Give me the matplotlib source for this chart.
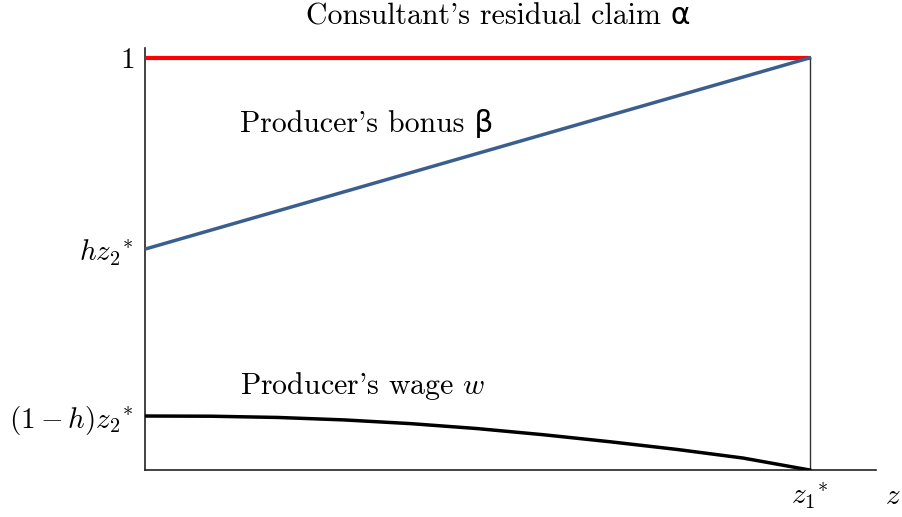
import numpy as np
import matplotlib
matplotlib.use('Agg')
import matplotlib.pyplot as plt

plt.rcParams['mathtext.fontset'] = 'cm'
plt.rcParams['font.family'] = ['cmr10', 'DejaVu Sans']
plt.rcParams['axes.unicode_minus'] = False

# Values (z scaled so that z1* = 1)
z1_star = 1.0
hz2 = 0.536          # h z2*
one_minus_h_z2 = 0.131   # (1-h) z2*

alpha_x = [0.0, z1_star]
alpha_y = [1.0, 1.0]

beta_x = [0.0, z1_star]
beta_y = [hz2, 1.0]

wage_x = [0.0, 0.1, 0.2, 0.3, 0.4, 0.5, 0.6, 0.7, 0.8, 0.9, 1.0]
wage_y = [0.131, 0.1305, 0.1275, 0.1215, 0.1125, 0.1005, 0.0855, 0.0685,
          0.050, 0.029, 0.0]

ytick_vals = [one_minus_h_z2, hz2, 1.0]
ytick_labels = [r'$(1-h)z_2{}^{*}$', r'$hz_2{}^{*}$', r'$1$']

fig = plt.figure(figsize=(9.02, 5.17), dpi=100)
ax = fig.add_axes([145 / 902, 47 / 517, 731 / 902, 422 / 517])

ax.plot(alpha_x, alpha_y, color='#ff0000', lw=3, solid_capstyle='butt', zorder=3)
ax.plot(beta_x, beta_y, color='#3a5f8f', lw=2.5, zorder=3)
ax.plot(wage_x, wage_y, color='black', lw=2.5, zorder=3)
ax.axvline(z1_star, ymax=(1.0 / 1.024), color='#333333', lw=1)

ax.set_xlim(0, 1.1)
ax.set_ylim(0, 1.024)

for s in ['top', 'right']:
    ax.spines[s].set_visible(False)
for s in ['left', 'bottom']:
    ax.spines[s].set_color('#222222')
    ax.spines[s].set_linewidth(1.2)

ax.set_yticks(ytick_vals)
ax.set_yticklabels(ytick_labels, fontsize=21)
ax.set_xticks([z1_star])
ax.set_xticklabels([r'$z_1{}^{*}$'], fontsize=21)
ax.tick_params(length=0, pad=8)

ax.text(1.125, -0.065, r'$z$', fontsize=21, ha='center', va='center', clip_on=False)

ax.text(0.532, 1.1, "Consultant's residual claim α", fontsize=21.5,
        ha='center', va='center', clip_on=False)
ax.text(0.143, 0.84, "Producer's bonus β", fontsize=21.5, ha='left', va='center')
ax.text(0.143, 0.204, "Producer's wage $w$", fontsize=21.5, ha='left', va='center')

fig.savefig('out.png', dpi=100)
